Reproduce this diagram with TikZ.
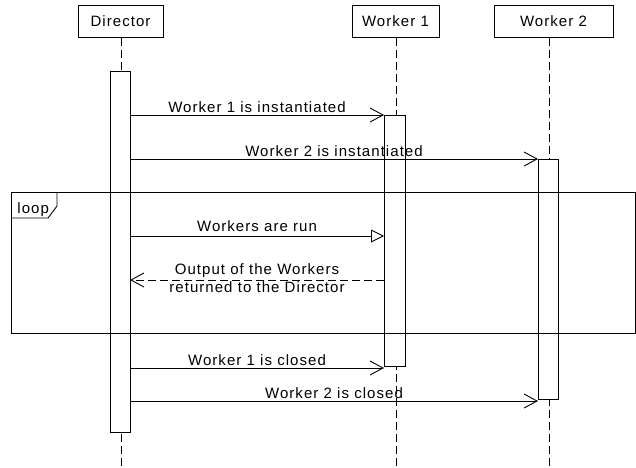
\documentclass[tikz,border=0pt]{standalone}
\usepackage{fontspec}
\setmainfont{Liberation Sans}[LetterSpace=7]
\usetikzlibrary{arrows.meta}
\begin{document}
\begin{tikzpicture}[x=1pt,y=-1pt,line width=0.9pt,
  txt/.style={font=\fontsize{15}{17.5}\selectfont},
  actor/.style={draw,fill=white,inner sep=0pt,outer sep=0pt,minimum height=32pt,txt},
  life/.style={dash pattern=on 8pt off 4pt},
  bar/.style={draw,fill=white,inner sep=0pt,outer sep=0pt,minimum width=20pt,anchor=north},
  msg/.style={-{Straight Barb[length=13pt,width=14pt]}},
  call/.style={-{Triangle[length=13pt,width=13pt,fill=white]}},
  reply/.style={msg,dash pattern=on 8pt off 4pt},
  lbl/.style={txt,inner sep=0pt,anchor=base},
  frame/.style={draw,inner sep=0pt,outer sep=0pt,anchor=north west}]
\useasboundingbox (0,0) rectangle (636,467);

% participants
\node[actor,minimum width=85pt] (dir) at (120.5,21.5) {Director};
\node[actor,minimum width=87pt] (w1) at (395.5,21.5) {Worker 1};
\node[actor,minimum width=119pt] (w2) at (553.5,21.5) {Worker 2};

% lifeline ends
\coordinate (dend) at (121,467);
\coordinate (w1end) at (396,467);
\coordinate (w2end) at (549,467);
\draw[life] (dend |- dir.south) -- (dend);
\draw[life] (w1end |- w1.south) -- (w1end);
\draw[life] (w2end |- w2.south) -- (w2end);

% activation bars
\node[bar,minimum height=361pt] (dbar) at (120,71) {};
\node[bar,minimum width=21pt,minimum height=251pt] (w1bar) at (394.5,115) {};
\node[bar,minimum height=240pt] (w2bar) at (548,159) {};

% loop frame
\node[frame,minimum width=624pt,minimum height=141pt] (loop) at (11,192) {};
\coordinate (tagb) at (11,218);
\draw (loop.north west) ++(46,0) coordinate (tagr) -- ++(0,14) -- ++(-9,12) -- (tagb);
\node[lbl,anchor=base west] (looplbl) at (17,213) {loop};

% message coordinates
\coordinate (m3a) at (130,236);
\coordinate (m3b) at (384,236);
\coordinate (m4a) at (384,280);
\coordinate (m4b) at (130,280);
\coordinate (m5a) at (130,368);
\coordinate (m5b) at (384,368);
\coordinate (m6a) at (130,401);
\coordinate (m6b) at (538,401);

\draw[msg] (dbar.east |- w1bar.north west) -- (w1bar.north west)
  node[lbl,midway,yshift=3pt] (l1) {Worker 1 is instantiated};
\draw[msg] (dbar.east |- w2bar.north west) -- (w2bar.north west)
  node[lbl,midway,yshift=3pt] (l2) {Worker 2 is instantiated};
\draw[call] (m3a) -- (m3b)
  node[lbl,midway,yshift=5pt] (l3) {Workers are run};
\draw[reply] (m4a) -- (m4b)
  node[txt,inner sep=0pt,midway,align=center,yshift=2pt] (l4) {Output of the Workers\\returned to the Director};
\draw[msg] (m5a) -- (m5b)
  node[lbl,midway,yshift=3pt] (l5) {Worker 1 is closed};
\draw[msg] (m6a) -- (m6b)
  node[lbl,midway,yshift=3pt] (l6) {Worker 2 is closed};
\end{tikzpicture}
\end{document}
